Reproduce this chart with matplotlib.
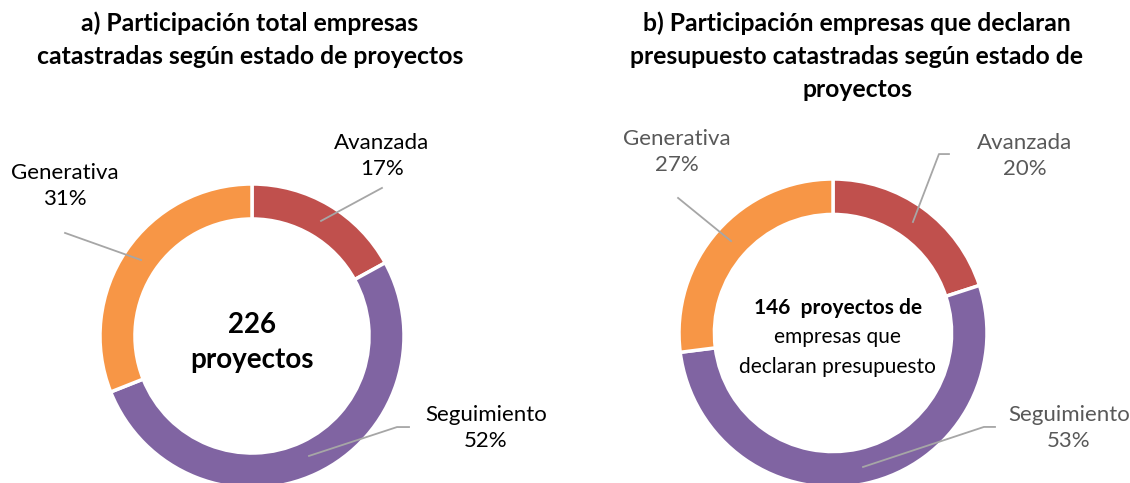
import matplotlib
matplotlib.use("Agg")
import matplotlib.pyplot as plt

plt.rcParams['font.family'] = ['Lato', 'DejaVu Sans']

# datos
categorias = ['Avanzada', 'Seguimiento', 'Generativa']
part_total = [17, 52, 31]
part_presupuesto = [20, 53, 27]
colores = ['#C0504D', '#8064A2', '#F79646']

titulo_a = 'a) Participación total empresas\ncatastradas según estado de proyectos'
titulo_b = 'b) Participación empresas que declaran\npresupuesto catastradas según estado de\nproyectos'

W, H = 1130, 483
fig = plt.figure(figsize=(W / 100, H / 100), dpi=100)


def make_ax(cx, cy, r):
    # axes en pixeles, centro (cx, cy) desde arriba, radio r
    ax = fig.add_axes([(cx - r) / W, (H - cy - r) / H, 2 * r / W, 2 * r / H])
    return ax


def donut(ax, valores, etiquetas, color_txt):
    ax.pie(valores, colors=colores, startangle=90, counterclock=False, radius=1,
           wedgeprops=dict(width=0.23, edgecolor='white', linewidth=2.5))
    ax.set_xlim(-1, 1)
    ax.set_ylim(-1, 1)
    ax.axis('off')
    for (txt, val), (pos, linea) in zip(zip(categorias, valores), etiquetas):
        ax.text(pos[0], pos[1], '%s\n%d%%' % (txt, val), ha='center', va='center',
                fontsize=16, color=color_txt, linespacing=1.4, clip_on=False)
        xs = [p[0] for p in linea]
        ys = [p[1] for p in linea]
        ax.plot(xs, ys, color='#A6A6A6', lw=1.3, clip_on=False)


# grafico a
ax1 = make_ax(252, 336, 152)
etq1 = [((0.855, 1.184), [(0.855, 0.974), (0.454, 0.757)]),
        ((1.54, -0.605), [(1.033, -0.599), (0.954, -0.599), (0.375, -0.789)]),
        ((-1.23, 0.987), [(-1.23, 0.678), (-0.73, 0.5)])]
donut(ax1, part_total, etq1, '#000000')
ax1.text(0, 0.072, '226', ha='center', va='center', fontsize=20, fontweight='bold')
ax1.text(0, -0.158, 'proyectos', ha='center', va='center', fontsize=20, fontweight='bold')

# grafico b
ax2 = make_ax(833, 333, 154)
etq2 = [((1.247, 1.149), [(0.753, 1.162), (0.688, 1.162), (0.519, 0.721)]),
        ((1.532, -0.617), [(1.052, -0.61), (0.98, -0.61), (0.195, -0.87)]),
        ((-1.013, 1.175), [(-1.006, 0.877), (-0.662, 0.597)])]
donut(ax2, part_presupuesto, etq2, '#595959')
ax2.text(0.03, 0.162, '146  proyectos de', ha='center', va='center', fontsize=15, fontweight='bold')
ax2.text(0.03, -0.026, 'empresas que', ha='center', va='center', fontsize=15)
ax2.text(0.03, -0.22, 'declaran presupuesto', ha='center', va='center', fontsize=15)

# titulos
fig.text(250 / W, 1 - 11 / H, titulo_a, ha='center', va='top', fontsize=17.8,
         fontweight='bold', linespacing=1.55)
fig.text(857 / W, 1 - 11 / H, titulo_b, ha='center', va='top', fontsize=17.8,
         fontweight='bold', linespacing=1.55)

fig.savefig('out.png', dpi=100, facecolor='white')
